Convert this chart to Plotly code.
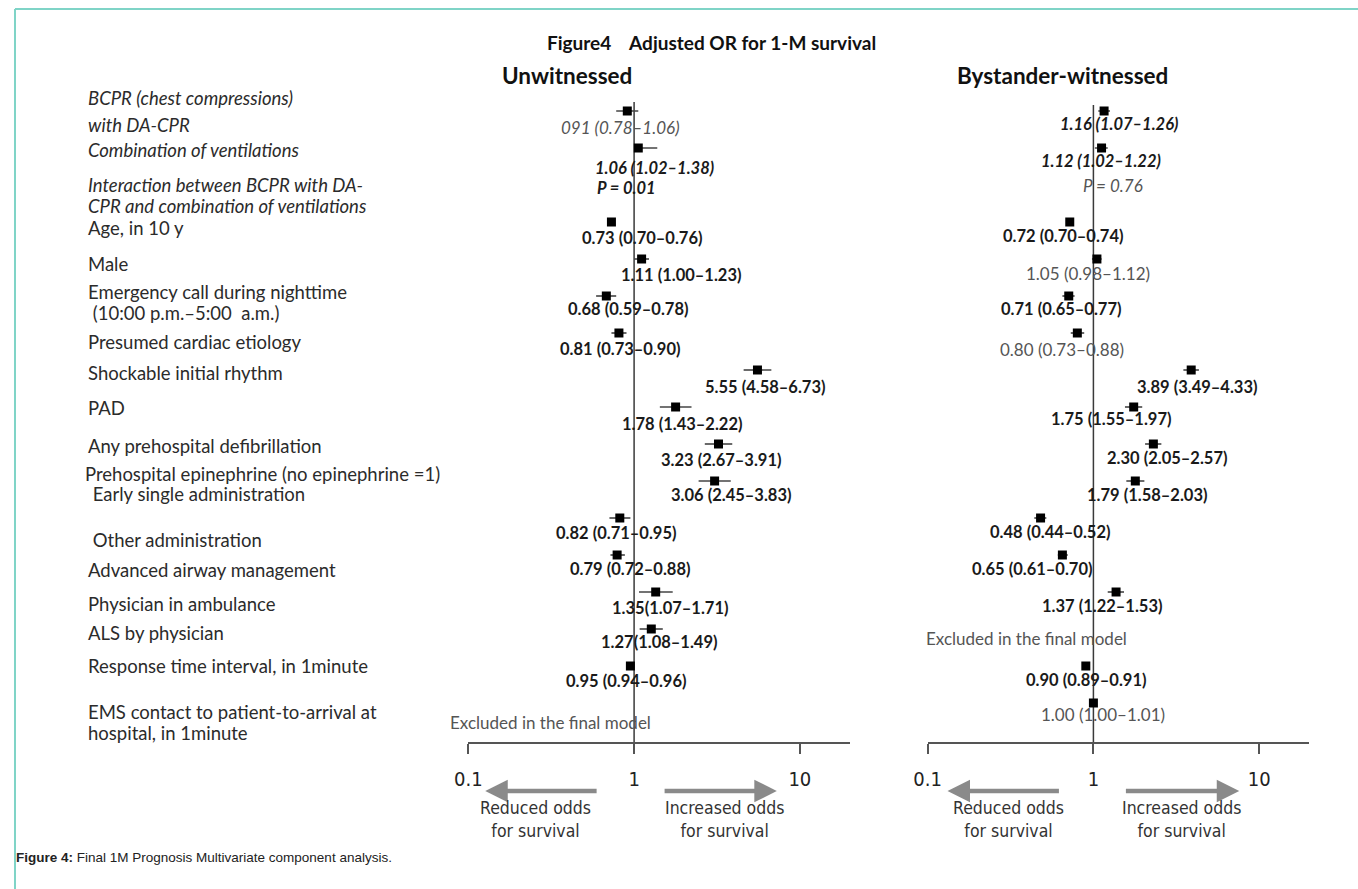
import math
import plotly.graph_objects as go

W, H = 1358, 889

# ---------------- data ----------------
rows = list(range(17))

row_labels = [
    "BCPR (chest compressions)", "with DA-CPR",
    "Combination of ventilations",
    "Interaction between BCPR with DA-", "CPR and combination of ventilations",
    "Age, in 10 y",
    "Male",
    "Emergency call during nighttime", " (10:00 p.m.\u20135:00  a.m.)",
    "Presumed cardiac etiology",
    "Shockable initial rhythm",
    "PAD",
    "Any prehospital defibrillation",
    "Prehospital epinephrine (no epinephrine =1)",
    " Early single administration",
    " Other administration",
    "Advanced airway management",
    "Physician in ambulance",
    "ALS by physician",
    "Response time interval, in 1minute",
    "EMS contact to patient-to-arrival at", "hospital, in 1minute",
]

unw_or = [0.91, 1.06, None, 0.73, 1.11, 0.68, 0.81, 5.55, 1.78, 3.23, 3.06, 0.82, 0.79, 1.35, 1.27, 0.95, None]
unw_lo = [0.78, 1.02, None, 0.70, 1.00, 0.59, 0.73, 4.58, 1.43, 2.67, 2.45, 0.71, 0.72, 1.07, 1.08, 0.94, None]
unw_hi = [1.06, 1.38, None, 0.76, 1.23, 0.78, 0.90, 6.73, 2.22, 3.91, 3.83, 0.95, 0.88, 1.71, 1.49, 0.96, None]
unw_text = ["091 (0.78\u20131.06)", "1.06 (1.02\u20131.38)", "P = 0.01", "0.73 (0.70\u20130.76)",
            "1.11 (1.00\u20131.23)", "0.68 (0.59\u20130.78)", "0.81 (0.73\u20130.90)", "5.55 (4.58\u20136.73)",
            "1.78 (1.43\u20132.22)", "3.23 (2.67\u20133.91)", "3.06 (2.45\u20133.83)", "0.82 (0.71\u20130.95)",
            "0.79 (0.72\u20130.88)", "1.35(1.07\u20131.71)", "1.27(1.08\u20131.49)", "0.95 (0.94\u20130.96)",
            "Excluded in the final model"]

wit_or = [1.16, 1.12, None, 0.72, 1.05, 0.71, 0.80, 3.89, 1.75, 2.30, 1.79, 0.48, 0.65, 1.37, None, 0.90, 1.00]
wit_lo = [1.07, 1.02, None, 0.70, 0.98, 0.65, 0.73, 3.49, 1.55, 2.05, 1.58, 0.44, 0.61, 1.22, None, 0.89, 1.00]
wit_hi = [1.26, 1.22, None, 0.74, 1.12, 0.77, 0.88, 4.33, 1.97, 2.57, 2.03, 0.52, 0.70, 1.53, None, 0.91, 1.01]
wit_text = ["1.16 (1.07\u20131.26)", "1.12 (1.02\u20131.22)", "P = 0.76", "0.72 (0.70\u20130.74)",
            "1.05 (0.98\u20131.12)", "0.71 (0.65\u20130.77)", "0.80 (0.73\u20130.88)", "3.89 (3.49\u20134.33)",
            "1.75 (1.55\u20131.97)", "2.30 (2.05\u20132.57)", "1.79 (1.58\u20132.03)", "0.48 (0.44\u20130.52)",
            "0.65 (0.61\u20130.70)", "1.37 (1.22\u20131.53)", "Excluded in the final model",
            "0.90 (0.89\u20130.91)", "1.00 (1.00\u20131.01)"]

tick_vals = [0.1, 1, 10]
tick_text = ["0.1", "1", "10"]

# ---------------- styles / positions ----------------
label_y_px = [98, 125, 150, 185, 206, 228, 264, 292, 313, 342, 373, 408, 446, 474, 494, 540, 570, 604, 633, 666, 712, 733]
label_italic = [True, True, True, True, True] + [False] * 17

unw_style = ["i", "bi", "bi", "b", "b", "b", "b", "b", "b", "b", "b", "b", "b", "b", "b", "b", "n"]
unw_dx = [-7, 16, -8, 31, 40, 22, 2, 8, 7, 3, 17, -3, 13, 15, 8, -4, -83]
unw_dy = [-16, -20, -3, -16, -16, -13, -16, -17, -17, -16, -14, -15, -14, -16, -13, -15, -19]
wit_style = ["bi", "bi", "i", "b", "n", "b", "n", "b", "b", "b", "b", "b", "b", "b", "n", "b", "n"]
wit_dx = [15, -1, 19, -6, -9, -7, -15, 6, -22, 14, 12, 10, -30, -13, -66, 1, 10]
wit_dy = [-13, -13, 0, -14, -14, -13, -16, -17, -12, -14, -14, -14, -14, -14, -9, -14, -11]

FONT = "Lato, 'Open Sans', sans-serif"
NARROW = "'Liberation Sans Narrow', 'Arial Narrow', 'DejaVu Sans Condensed', 'Liberation Sans', sans-serif"

ROW0_PX, ROW_STEP = 111, 37
PLOT_TOP, PLOT_BOT = 102, 742
y_range = [(PLOT_BOT - ROW0_PX) / ROW_STEP, (PLOT_TOP - ROW0_PX) / ROW_STEP]
X_RANGE = [-1, math.log10(20)]

# horizontal placement calibration of the rendered page
X_OFF, X_SCALE = 12.0, 1346.0 / 1358.0


def px(t):
    """paper fraction that lands on target pixel t"""
    return max(0.0, (t - X_OFF) / X_SCALE / W)


def sx(d):
    return d / X_SCALE


def py(p):
    return 1 - p / H


def px_to_row(p):
    return (p - ROW0_PX) / ROW_STEP


fig = go.Figure()


def add_panel(ors, los, his, xa, ya, top_px):
    xs, ys, ep, em = [], [], [], []
    for r, o, lo, hi in zip(rows, ors, los, his):
        if o is None:
            continue
        xs.append(o)
        ys.append(r)
        ep.append(hi - o)
        em.append(o - lo)
    # reference line at OR = 1
    fig.add_trace(go.Scatter(x=[1, 1], y=[px_to_row(top_px), y_range[0]], mode="lines",
                             line=dict(color="#3a3a3a", width=1.5), xaxis=xa, yaxis=ya,
                             hoverinfo="skip", showlegend=False))
    fig.add_trace(go.Scatter(
        x=xs, y=ys, mode="markers", xaxis=xa, yaxis=ya, showlegend=False,
        marker=dict(symbol="square", size=9, color="black"),
        error_x=dict(type="data", symmetric=False, array=ep, arrayminus=em,
                     color="#444", thickness=1.6, width=0),
    ))


add_panel(unw_or, unw_lo, unw_hi, "x", "y", 102)
add_panel(wit_or, wit_lo, wit_hi, "x2", "y2", 105)

annotations = []


def styled(t, s):
    if s == "b":
        return "<b>%s</b>" % t
    if s == "bi":
        return "<b><i>%s</i></b>" % t
    if s == "i":
        return "<i>%s</i>" % t
    return t


def add_texts(ors, texts, styles, dxs, dys, xr, yr):
    for r, o, t, s, dx, dy in zip(rows, ors, texts, styles, dxs, dys):
        anchor = o if o is not None else 1.0
        bold = "b" in s
        col = "#1a1a1a" if bold else "#555555"
        annotations.append(dict(
            x=math.log10(anchor), y=r, xref=xr, yref=yr, text=styled(t, s),
            showarrow=False, xanchor="center", yanchor="middle",
            xshift=sx(dx), yshift=dy, font=dict(family=FONT, size=16.5 if bold else 17, color=col)))


add_texts(unw_or, unw_text, unw_style, unw_dx, unw_dy, "x", "y")
add_texts(wit_or, wit_text, wit_style, wit_dx, wit_dy, "x2", "y2")

# left-hand row labels
for t, ypx, it in zip(row_labels, label_y_px, label_italic):
    xpx = 84
    if t.startswith("Prehospital"):
        xpx = 81
    annotations.append(dict(
        x=px(xpx), y=py(ypx), xref="paper", yref="paper", xanchor="left", yanchor="middle",
        text=("<i>%s</i>" % t) if it else t, showarrow=False,
        font=dict(family=FONT, size=18.5, color="#2b2b2b")))

# titles
annotations.append(dict(x=px(711), y=py(42), xref="paper", yref="paper", showarrow=False,
                        xanchor="center", yanchor="middle",
                        text="<b>Figure4\u00a0\u00a0\u00a0\u00a0Adjusted OR for 1-M survival</b>",
                        font=dict(family=FONT, size=19, color="#111")))
annotations.append(dict(x=px(566), y=py(75), xref="paper", yref="paper", showarrow=False,
                        xanchor="center", yanchor="middle",
                        text="<b>Unwitnessed</b>", font=dict(family=FONT, size=22.5, color="#111")))
annotations.append(dict(x=px(1062), y=py(75), xref="paper", yref="paper", showarrow=False,
                        xanchor="center", yanchor="middle",
                        text="<b>Bystander-witnessed</b>", font=dict(family=FONT, size=22.5, color="#111")))

# direction arrows (tail, tip in log10 OR units) and their captions
arrow_specs = [
    ("x", -0.217, -0.898), ("x", 0.175, 0.861),
    ("x2", -0.199, -0.880), ("x2", 0.187, 0.880),
]
for xr, tail, tip in arrow_specs:
    annotations.append(dict(x=tip, y=py(791), xref=xr, yref="paper", ax=tail, ay=0,
                            axref=xr, ayref="pixel", text="", showarrow=True,
                            arrowhead=2, arrowsize=1.0, arrowwidth=4.5, arrowcolor="#8a8a8a"))
for cx, t in [(534, "Reduced odds<br>for survival"), (724, "Increased odds<br>for survival"),
              (1008, "Reduced odds<br>for survival"), (1181, "Increased odds<br>for survival")]:
    annotations.append(dict(x=px(cx), y=py(819), xref="paper", yref="paper", showarrow=False,
                            xanchor="center", yanchor="middle",
                            text=t, font=dict(family=NARROW, size=17.5, color="#333")))

# caption
annotations.append(dict(x=px(12), y=py(857), xref="paper", yref="paper", showarrow=False,
                        xanchor="left", yanchor="middle",
                        text="<b>Figure 4:</b> Final 1M Prognosis Multivariate component analysis.",
                        font=dict(family="'Liberation Sans', Arial, sans-serif", size=13.5, color="#222")))

teal = "#7fd4c7"
edge = 1.0 / W
shapes = [
    dict(type="line", xref="paper", yref="paper", x0=edge, x1=1, y0=py(9), y1=py(9),
         line=dict(color=teal, width=2)),
    dict(type="line", xref="paper", yref="paper", x0=edge, x1=edge, y0=py(9), y1=0,
         line=dict(color=teal, width=2)),
]

axis_common = dict(type="log", range=X_RANGE, tickvals=tick_vals, ticktext=tick_text,
                   showline=True, linecolor="#555", linewidth=2, ticks="outside", ticklen=10,
                   tickwidth=1.5, tickcolor="#555", showgrid=False, zeroline=False,
                   tickfont=dict(family=NARROW, size=20, color="#222"), ticklabelstandoff=8)
yaxis_common = dict(range=y_range, visible=False, showgrid=False, zeroline=False)

fig.update_layout(
    width=W, height=H, autosize=False, margin=dict(l=0, r=0, t=0, b=0),
    paper_bgcolor="white", plot_bgcolor="white",
    xaxis=dict(domain=[px(467), px(849)], anchor="y", **axis_common),
    xaxis2=dict(domain=[px(927), px(1309)], anchor="y2", **axis_common),
    yaxis=dict(domain=[py(PLOT_BOT), py(PLOT_TOP)], anchor="x", **yaxis_common),
    yaxis2=dict(domain=[py(PLOT_BOT), py(PLOT_TOP)], anchor="x2", **yaxis_common),
    annotations=annotations, shapes=shapes, showlegend=False,
)

fig.write_html(
    "out.html",
    config={"displayModeBar": False},
    post_script=("document.documentElement.style.margin='0';document.body.style.margin='0';"
                 "document.body.style.padding='0';document.body.style.overflow='hidden';"
                 "var gd=document.getElementById('{plot_id}');"
                 "gd.style.position='fixed';gd.style.left='0px';gd.style.top='0px';"),
)
